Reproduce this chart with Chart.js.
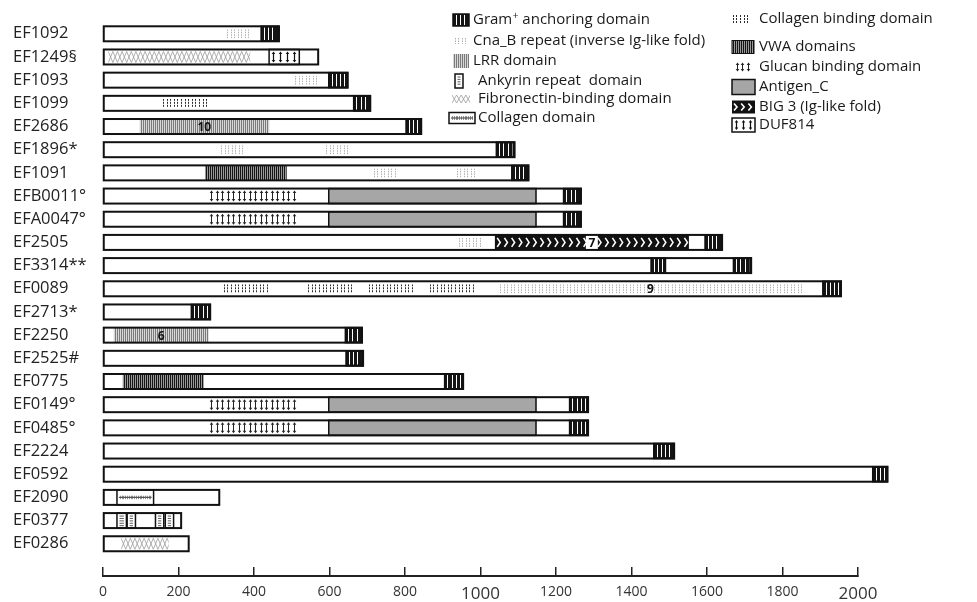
<!DOCTYPE html>
<html>
<head>
<meta charset="utf-8">
<script src="https://cdn.jsdelivr.net/npm/chart.js@4.4.1/dist/chart.umd.min.js"></script>
<style>
  html, body { margin: 0; background: #fff; }
  #wrap { width: 977px; height: 602px; }
</style>
</head>
<body>
<div id="wrap"><canvas id="domains"></canvas></div>
<script>
// protein names (top to bottom) and total lengths (aa)
const proteins = ['EF1092', 'EF1249§', 'EF1093', 'EF1099', 'EF2686', 'EF1896*', 'EF1091',
  'EFB0011°', 'EFA0047°', 'EF2505', 'EF3314**', 'EF0089', 'EF2713*', 'EF2250', 'EF2525#',
  'EF0775', 'EF0149°', 'EF0485°', 'EF2224', 'EF0592', 'EF2090', 'EF0377', 'EF0286'];
const lengths = [466, 570, 648, 708, 843, 1090, 1127, 1266, 1266, 1640, 1717, 1955, 284,
  686, 689, 954, 1285, 1285, 1513, 2078, 308, 207, 227];

// domains: [protein, start, end, repeat count]
const anchorDom = [['EF1092', 419, 466], ['EF1093', 598, 648], ['EF1099', 664, 708],
  ['EF2686', 803, 843], ['EF1896*', 1042, 1090], ['EF1091', 1083, 1127],
  ['EFB0011°', 1220, 1266], ['EFA0047°', 1220, 1266], ['EF2505', 1595, 1640],
  ['EF3314**', 1452, 1490], ['EF3314**', 1670, 1717], ['EF0089', 1907, 1955],
  ['EF2713*', 234, 284], ['EF2250', 642, 686], ['EF2525#', 644, 689], ['EF0775', 905, 954],
  ['EF0149°', 1236, 1285], ['EF0485°', 1236, 1285], ['EF2224', 1459, 1513], ['EF0592', 2039, 2078]];
const cnabDom = [['EF1092', 324, 390], ['EF1093', 505, 571], ['EF1896*', 308, 374],
  ['EF1896*', 587, 651], ['EF1091', 713, 777], ['EF1091', 933, 993], ['EF2505', 938, 1004],
  ['EF0089', 1048, 1852, 9]];
const lrrDom = [['EF2686', 97, 440, 10], ['EF2250', 28, 280, 6]];
const vwaDom = [['EF1091', 271, 486], ['EF0775', 53, 266]];
const colBindDom = [['EF1099', 154, 280], ['EF0089', 315, 441], ['EF0089', 539, 662],
  ['EF0089', 699, 825], ['EF0089', 861, 986]];
const glucanDom = [['EFB0011°', 280, 514], ['EFA0047°', 280, 514], ['EF0149°', 280, 514], ['EF0485°', 280, 514]];
const antigenDom = [['EFB0011°', 598, 1147], ['EFA0047°', 598, 1147], ['EF0149°', 598, 1147], ['EF0485°', 598, 1147]];
const big3Dom = [['EF2505', 1039, 1551, 7]];
const dufDom = [['EF1249§', 440, 520]];
const fibroDom = [['EF1249§', 14, 390], ['EF0286', 48, 174]];
const ankyrinDom = [['EF0377', 37, 62], ['EF0377', 64, 86], ['EF0377', 139, 161], ['EF0377', 165, 187]];
const collagenDom = [['EF2090', 37, 134]];

const xTicks = [0, 200, 400, 600, 800, 1000, 1200, 1400, 1600, 1800, 2000];

const FONT = '"Open Sans", sans-serif';

// vertical hatch lines, snapped to pixel centres so they stay crisp
function vlines(ctx, l, r, t, b, step, color, lw, dash, start) {
  ctx.save();
  ctx.beginPath(); ctx.rect(l, t, r - l, b - t); ctx.clip();
  ctx.strokeStyle = color; ctx.lineWidth = lw; ctx.setLineDash(dash || []);
  ctx.beginPath();
  for (let x = l + (start || step / 2); x < r; x += step) {
    const px = Math.round(x) + 0.5;
    ctx.moveTo(px, t); ctx.lineTo(px, b);
  }
  ctx.stroke();
  ctx.restore();
}

function arrows(ctx, l, r, t, b, step, color, lw) {
  ctx.strokeStyle = color; ctx.fillStyle = color; ctx.lineWidth = lw;
  for (let x = l + step / 2; x < r - 1; x += step) {
    const px = Math.round(x) + 0.5;
    ctx.beginPath(); ctx.moveTo(px, t + 4); ctx.lineTo(px, b - 4); ctx.stroke();
    ctx.beginPath(); ctx.moveTo(px - 1.8, t + 4.5); ctx.lineTo(px, t + 2); ctx.lineTo(px + 1.8, t + 4.5); ctx.fill();
    ctx.beginPath(); ctx.moveTo(px - 1.8, b - 4.5); ctx.lineTo(px, b - 2); ctx.lineTo(px + 1.8, b - 4.5); ctx.fill();
  }
}

function box(ctx, l, r, t, b, lw) {
  ctx.strokeStyle = '#111'; ctx.lineWidth = lw || 1.5; ctx.setLineDash([]);
  ctx.strokeRect(l, t, r - l, b - t);
}

const motifs = {
  anchor(ctx, l, r, t, b) {
    ctx.fillStyle = '#141414'; ctx.fillRect(l, t, r - l, b - t);
    vlines(ctx, l, r - 2, t + 1, b - 1, 4.2, '#fff', 1, null, 2.8);
    box(ctx, l, r, t, b);
  },
  cnab(ctx, l, r, t, b) { vlines(ctx, l, r, t + 3, b - 3, 3.5, '#b0b0b0', 1, [1.5, 1]); },
  lrr(ctx, l, r, t, b) {
    ctx.fillStyle = '#d8d8d8'; ctx.fillRect(l, t, r - l, b - t);
    vlines(ctx, l, r, t, b, 2, '#7a7a7a', 1);
  },
  vwa(ctx, l, r, t, b) {
    ctx.fillStyle = '#9a9a9a'; ctx.fillRect(l, t, r - l, b - t);
    vlines(ctx, l, r, t, b, 2, '#151515', 1);
  },
  colBind(ctx, l, r, t, b) { vlines(ctx, l, r, t + 3, b - 3, 3.6, '#2a2a2a', 1, [2, 1]); },
  glucan(ctx, l, r, t, b) { arrows(ctx, l, r, t, b, 5.5, '#222', 1); },
  antigen(ctx, l, r, t, b) {
    ctx.fillStyle = '#a6a6a6'; ctx.fillRect(l, t, r - l, b - t);
    box(ctx, l, r, t, b);
  },
  big3(ctx, l, r, t, b) {
    ctx.fillStyle = '#111'; ctx.fillRect(l, t, r - l, b - t);
    ctx.strokeStyle = '#fff'; ctx.lineWidth = 1.6;
    for (let x = l + 2; x < r - 3; x += 7.2) {
      ctx.beginPath(); ctx.moveTo(x, t + 3); ctx.lineTo(x + 3, (t + b) / 2); ctx.lineTo(x, b - 3); ctx.stroke();
    }
  },
  duf(ctx, l, r, t, b) {
    ctx.fillStyle = '#fff'; ctx.fillRect(l, t, r - l, b - t);
    arrows(ctx, l, r, t, b, 7, '#111', 1.2);
    box(ctx, l, r, t, b);
  },
  fibro(ctx, l, r, t, b) {
    ctx.save();
    ctx.beginPath(); ctx.rect(l, t, r - l, b - t); ctx.clip();
    ctx.strokeStyle = '#9a9a9a'; ctx.lineWidth = 0.8;
    ctx.beginPath();
    for (let x = l; x < r; x += 4.6) {
      ctx.moveTo(x, t + 2); ctx.lineTo(x + 4.6, b - 2);
      ctx.moveTo(x + 4.6, t + 2); ctx.lineTo(x, b - 2);
    }
    ctx.stroke();
    ctx.restore();
  },
  ankyrin(ctx, l, r, t, b) {
    ctx.fillStyle = '#fff'; ctx.fillRect(l, t, r - l, b - t);
    ctx.strokeStyle = '#333'; ctx.lineWidth = 0.8;
    ctx.beginPath();
    for (let y = t + 3; y < b - 2; y += 2.4) { ctx.moveTo(l + 2.5, y); ctx.lineTo(r - 2.5, y); }
    ctx.stroke();
    box(ctx, l, r, t, b);
  },
  collagen(ctx, l, r, t, b) {
    ctx.fillStyle = '#fff'; ctx.fillRect(l, t, r - l, b - t);
    const m = (t + b) / 2;
    vlines(ctx, l + 2, r - 2, m - 2, m + 2, 1.8, '#777', 0.8);
    ctx.strokeStyle = '#555'; ctx.lineWidth = 1.2;
    ctx.beginPath(); ctx.moveTo(l + 2, m); ctx.lineTo(r - 2, m); ctx.stroke();
    box(ctx, l, r, t, b);
  }
};

const domainTypes = [
  { name: 'anchor', data: anchorDom, fill: '#141414' },
  { name: 'cnab', data: cnabDom, fill: 'rgba(0,0,0,0)' },
  { name: 'lrr', data: lrrDom, fill: 'rgba(0,0,0,0)' },
  { name: 'vwa', data: vwaDom, fill: '#9a9a9a' },
  { name: 'colBind', data: colBindDom, fill: 'rgba(0,0,0,0)' },
  { name: 'glucan', data: glucanDom, fill: 'rgba(0,0,0,0)' },
  { name: 'antigen', data: antigenDom, fill: '#a6a6a6' },
  { name: 'big3', data: big3Dom, fill: '#111' },
  { name: 'duf', data: dufDom, fill: '#fff' },
  { name: 'fibro', data: fibroDom, fill: 'rgba(0,0,0,0)' },
  { name: 'ankyrin', data: ankyrinDom, fill: '#fff' },
  { name: 'collagen', data: collagenDom, fill: '#fff' }
];

function toPoints(list) {
  return list.map(d => ({ y: proteins.indexOf(d[0]), x: [d[1], d[2]], n: d[3] }));
}

const datasets = domainTypes.map(t => ({
  label: t.name,
  motif: t.name,
  data: toPoints(t.data),
  backgroundColor: t.fill,
  borderWidth: 0,
  barThickness: 15,
  clip: false,
  order: 1
}));
datasets.push({
  label: 'protein',
  outline: true,
  data: lengths.map((len, i) => ({ y: i, x: [0, len] })),
  backgroundColor: '#fff',
  borderWidth: 0,
  barThickness: 15,
  clip: false,
  order: 10
});

// hatch/motif overlay, repeat counts and protein outlines
const motifPlugin = {
  id: 'motifs',
  afterDatasetsDraw(chart) {
    const ctx = chart.ctx;
    const rects = (i) => chart.getDatasetMeta(i).data.map(bar => {
      const p = bar.getProps(['x', 'y', 'base', 'height'], true);
      return { l: Math.min(p.x, p.base), r: Math.max(p.x, p.base), t: p.y - p.height / 2, b: p.y + p.height / 2 };
    });
    chart.data.datasets.forEach((ds, i) => {
      if (!ds.motif) return;
      rects(i).forEach(q => {
        ctx.save(); motifs[ds.motif](ctx, q.l, q.r, q.t, q.b); ctx.restore();
      });
    });
    // outlines
    chart.data.datasets.forEach((ds, i) => {
      if (!ds.outline) return;
      ctx.save();
      ctx.strokeStyle = '#111'; ctx.lineWidth = 2;
      rects(i).forEach(q => ctx.strokeRect(q.l, q.t, q.r - q.l, q.b - q.t));
      ctx.restore();
    });
    // repeat counts
    chart.data.datasets.forEach((ds, i) => {
      if (!ds.motif) return;
      rects(i).forEach((q, j) => {
        const n = ds.data[j].n;
        if (!n) return;
        const cx = (q.l + q.r) / 2, cy = (q.t + q.b) / 2;
        ctx.save();
        ctx.font = 'bold 12px ' + FONT;
        ctx.textAlign = 'center'; ctx.textBaseline = 'middle';
        if (ds.motif === 'big3') {
          ctx.fillStyle = '#fff'; ctx.fillRect(cx - 6, q.t + 1, 12, q.b - q.t - 2);
        }
        ctx.fillStyle = '#111';
        ctx.fillText(String(n), cx, cy + 1);
        ctx.restore();
      });
    });
  }
};

// legend drawn in the upper right of the plot
const legendItems = [
  { motif: 'anchor', text: 'Gram', sup: '+', rest: ' anchoring domain', sx: 453, sw: 16, sh: 12, tx: 473, y: 20 },
  { motif: 'cnab', text: 'Cna_B repeat (inverse Ig-like fold)', sx: 453, sw: 16, sh: 12, tx: 473, y: 41 },
  { motif: 'lrr', text: 'LRR domain', sx: 453, sw: 16, sh: 14, tx: 473, y: 61 },
  { motif: 'ankyrin', text: 'Ankyrin repeat  domain', sx: 455, sw: 8, sh: 14, tx: 478, y: 81 },
  { motif: 'fibro', text: 'Fibronectin-binding domain', sx: 452, sw: 18, sh: 12, tx: 478, y: 99 },
  { motif: 'collagen', text: 'Collagen domain', sx: 449, sw: 26, sh: 11, tx: 478, y: 118 },
  { motif: 'colBind', text: 'Collagen binding domain', sx: 731, sw: 20, sh: 14, tx: 759, y: 19 },
  { motif: 'vwa', text: 'VWA domains', sx: 732, sw: 22, sh: 13, tx: 759, y: 47 },
  { motif: 'glucan', text: 'Glucan binding domain', sx: 734, sw: 18, sh: 13, tx: 759, y: 67 },
  { motif: 'antigen', text: 'Antigen_C', sx: 732, sw: 23, sh: 15, tx: 759, y: 87 },
  { motif: 'big3', text: 'BIG 3 (Ig-like fold)', sx: 732, sw: 23, sh: 13, tx: 759, y: 107 },
  { motif: 'duf', text: 'DUF814', sx: 732, sw: 23, sh: 14, tx: 759, y: 125 }
];

const legendPlugin = {
  id: 'domainLegend',
  afterDraw(chart) {
    const ctx = chart.ctx;
    legendItems.forEach(it => {
      ctx.save();
      const t = it.y - it.sh / 2, b = it.y + it.sh / 2;
      motifs[it.motif](ctx, it.sx, it.sx + it.sw, t, b);
      if (it.motif === 'vwa') box(ctx, it.sx, it.sx + it.sw, t, b, 1);
      ctx.restore();
      ctx.save();
      ctx.fillStyle = '#1a1a1a';
      ctx.textBaseline = 'middle';
      ctx.font = '15px ' + FONT;
      ctx.fillText(it.text, it.tx, it.y);
      if (it.sup) {
        const w = ctx.measureText(it.text).width;
        ctx.font = '10px ' + FONT;
        ctx.fillText(it.sup, it.tx + w + 0.5, it.y - 4);
        const w2 = ctx.measureText(it.sup).width;
        ctx.font = '15px ' + FONT;
        ctx.fillText(it.rest, it.tx + w + w2 + 0.5, it.y);
      }
      ctx.restore();
    });
  }
};

new Chart(document.getElementById('domains'), {
  type: 'bar',
  data: { datasets: datasets },
  options: {
    indexAxis: 'y',
    responsive: true,
    maintainAspectRatio: false,
    animation: false,
    grouped: false,
    layout: { padding: { left: 13, right: 119, top: 7, bottom: 0 } },
    plugins: { legend: { display: false }, tooltip: { enabled: false } },
    scales: {
      x: {
        type: 'linear',
        position: 'bottom',
        min: 0,
        max: 2000,
        afterBuildTicks: s => { s.ticks = xTicks.map(v => ({ value: v })); },
        afterFit: s => { s.height = 26; },
        grid: { drawOnChartArea: false, tickLength: -9, color: '#222', lineWidth: 1.5 },
        border: { color: '#222', width: 2 },
        ticks: {
          padding: 17,
          color: '#333',
          maxRotation: 0,
          autoSkip: false,
          callback: v => String(v),
          font: c => ({ family: FONT, size: (c.tick && c.tick.value >= 1000 && c.tick.value % 1000 === 0) ? 17 : 14 })
        }
      },
      y: {
        type: 'linear',
        reverse: true,
        min: -0.5,
        max: 22.86,
        afterBuildTicks: s => { s.ticks = proteins.map((p, i) => ({ value: i })); },
        afterFit: s => { s.width = 90; },
        grid: { display: false },
        border: { display: false },
        ticks: {
          autoSkip: false,
          crossAlign: 'far',
          padding: 0,
          color: '#222',
          font: { family: FONT, size: 16.5 },
          callback: v => proteins[v]
        }
      }
    }
  },
  plugins: [motifPlugin, legendPlugin]
});
</script>
</body>
</html>
